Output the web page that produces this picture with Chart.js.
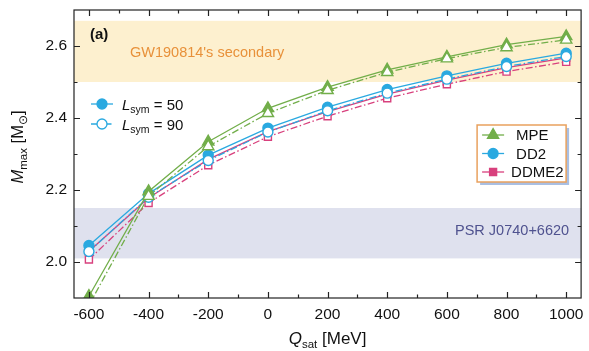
<!DOCTYPE html>
<html>
<head>
<meta charset="utf-8">
<script src="https://cdn.jsdelivr.net/npm/chart.js@4/dist/chart.umd.min.js"></script>
<style>
  html, body { margin: 0; padding: 0; background: #fff; }
  #wrap { width: 589px; height: 351px; }
</style>
</head>
<body>
<div id="wrap"><canvas id="c" width="589" height="351"></canvas></div>
<script>
// Saturation skewness Q_sat [MeV]
const qsat = [-600, -400, -200, 0, 200, 400, 600, 800, 1000];

// Maximum mass [M_sun] for each model, L_sym = 50 and L_sym = 90
const mpeL50   = [1.905, 2.196, 2.334, 2.427, 2.486, 2.534, 2.570, 2.604, 2.627];
const mpeL90   = [1.880, 2.183, 2.321, 2.413, 2.477, 2.527, 2.565, 2.596, 2.617];
const dd2L50   = [2.046, 2.190, 2.297, 2.372, 2.430, 2.479, 2.517, 2.552, 2.580];
const dd2L90   = [2.029, 2.180, 2.282, 2.361, 2.420, 2.469, 2.508, 2.543, 2.571];
const ddme2L50 = [2.030, 2.178, 2.285, 2.362, 2.418, 2.466, 2.505, 2.540, 2.567];
const ddme2L90 = [2.007, 2.164, 2.269, 2.348, 2.405, 2.455, 2.494, 2.529, 2.556];

// Observational constraints [M_sun]
const gwBand  = [2.50, 2.67];   // GW190814's secondary
const psrBand = [2.01, 2.15];   // PSR J0740+6620

// Axis ticks
const xTicks = [-600, -400, -200, 0, 200, 400, 600, 800, 1000];
const xMinor = [-600, -500, -400, -300, -200, -100, 0, 100, 200, 300, 400, 500, 600, 700, 800, 900, 1000];
const yTicks = [2.0, 2.2, 2.4, 2.6];
const yMinor = [2.0, 2.1, 2.2, 2.3, 2.4, 2.5, 2.6];

const GREEN = '#72ae4a';
const BLUE  = '#2aa9e0';
const PINK  = '#d8407d';
const FONT  = '"Liberation Sans", Arial, sans-serif';
const DASHDOT = [7, 2.5, 1.5, 2.5];

const pts = ys => qsat.map((x, i) => ({ x, y: ys[i] }));

function series(label, ys, color, style, open, order) {
  return {
    label,
    data: pts(ys),
    borderColor: color,
    backgroundColor: open ? '#ffffff' : color,
    pointBorderColor: color,
    pointBackgroundColor: open ? '#ffffff' : color,
    pointStyle: style,
    pointRadius: style === 'triangle' ? 6.5 : 5,
    pointBorderWidth: 1.4,
    borderWidth: 1.3,
    borderDash: open ? DASHDOT : [],
    tension: 0,
    fill: false,
    order
  };
}

function drawMarker(ctx, style, x, y) {
  Chart.helpers.drawPoint(ctx, {
    pointStyle: style,
    radius: style === 'triangle' ? 6.5 : 5,
    borderWidth: 1.4
  }, x, y);
}

const decor = {
  id: 'decor',
  beforeDatasetsDraw(chart) {
    const { ctx, chartArea: a, scales: { y } } = chart;
    ctx.save();
    // constraint bands
    const band = (lo, hi, col) => {
      const y1 = y.getPixelForValue(hi), y2 = y.getPixelForValue(lo);
      ctx.fillStyle = col;
      ctx.fillRect(a.left, y1, a.right - a.left, y2 - y1);
    };
    band(gwBand[0], gwBand[1], '#fdf0cf');
    band(psrBand[0], psrBand[1], '#dfe1ee');
    ctx.font = '14.5px ' + FONT;
    ctx.textBaseline = 'middle';
    ctx.fillStyle = '#e8913a';
    ctx.textAlign = 'left';
    ctx.fillText("GW190814's secondary", a.left + 56, y.getPixelForValue(2.58));
    ctx.fillStyle = '#4f528f';
    ctx.textAlign = 'right';
    ctx.fillText('PSR J0740+6620', a.right - 12, y.getPixelForValue(2.085));
    ctx.restore();
  },
  afterDatasetsDraw(chart) {
    const { ctx, chartArea: a, scales: { x, y } } = chart;
    ctx.save();
    // frame
    ctx.strokeStyle = '#222';
    ctx.lineWidth = 1.2;
    ctx.strokeRect(a.left, a.top, a.right - a.left, a.bottom - a.top);
    // inward ticks on all sides
    ctx.beginPath();
    xMinor.forEach(v => {
      const px = Math.round(x.getPixelForValue(v)) + 0.5;
      const len = xTicks.includes(v) ? 6 : 3.5;
      ctx.moveTo(px, a.bottom); ctx.lineTo(px, a.bottom - len);
      ctx.moveTo(px, a.top); ctx.lineTo(px, a.top + len);
    });
    yMinor.forEach(v => {
      const py = Math.round(y.getPixelForValue(v)) + 0.5;
      const len = yTicks.some(t => Math.abs(t - v) < 1e-9) ? 6 : 3.5;
      ctx.moveTo(a.left, py); ctx.lineTo(a.left + len, py);
      ctx.moveTo(a.right, py); ctx.lineTo(a.right - len, py);
    });
    ctx.stroke();

    // panel label
    ctx.fillStyle = '#111';
    ctx.font = 'bold 15px ' + FONT;
    ctx.textAlign = 'left';
    ctx.textBaseline = 'middle';
    ctx.fillText('(a)', a.left + 16, a.top + 25);

    // L_sym legend
    const legL = [[50, false, []], [90, true, DASHDOT]];
    legL.forEach(([val, open, dash], i) => {
      const yy = a.top + 94 + i * 20;
      ctx.strokeStyle = BLUE;
      ctx.lineWidth = 1.3;
      ctx.setLineDash(dash);
      ctx.beginPath(); ctx.moveTo(a.left + 17, yy); ctx.lineTo(a.left + 39, yy); ctx.stroke();
      ctx.setLineDash([]);
      ctx.fillStyle = open ? '#fff' : BLUE;
      drawMarker(ctx, 'circle', a.left + 28, yy);
      ctx.fillStyle = '#111';
      let tx = a.left + 48;
      ctx.textBaseline = 'alphabetic';
      ctx.font = 'italic 15px ' + FONT;
      ctx.fillText('L', tx, yy + 5.5); tx += ctx.measureText('L').width;
      ctx.font = '10.5px ' + FONT;
      ctx.fillText('sym', tx, yy + 9); tx += ctx.measureText('sym').width;
      ctx.font = '15px ' + FONT;
      ctx.fillText(' = ' + val, tx, yy + 5.5);
    });

    // model legend
    const bx = a.right - 104, by = a.top + 115, bw = 89, bh = 57;
    ctx.fillStyle = '#a9bfe3';
    ctx.fillRect(bx + 3, by + 3, bw, bh);
    ctx.fillStyle = '#fff';
    ctx.fillRect(bx, by, bw, bh);
    ctx.strokeStyle = '#e9a15e';
    ctx.lineWidth = 1.5;
    ctx.strokeRect(bx, by, bw, bh);
    const models = [['MPE', GREEN, 'triangle', 39], ['DD2', BLUE, 'circle', 39], ['DDME2', PINK, 'rect', 34]];
    ctx.font = '15px ' + FONT;
    ctx.textBaseline = 'middle';
    models.forEach(([name, col, style, tdx], i) => {
      const yy = by + 10 + i * 18.5;
      ctx.strokeStyle = col;
      ctx.lineWidth = 1.3;
      ctx.beginPath(); ctx.moveTo(bx + 5, yy); ctx.lineTo(bx + 27, yy); ctx.stroke();
      ctx.fillStyle = col;
      drawMarker(ctx, style, bx + 16, yy);
      ctx.fillStyle = '#111';
      ctx.fillText(name, bx + tdx, yy + 1);
    });
    ctx.restore();
  },
  afterDraw(chart) {
    const { ctx, chartArea: a } = chart;
    ctx.save();
    ctx.fillStyle = '#111';
    ctx.textBaseline = 'alphabetic';
    const width = list => list.reduce((s, [t, f]) => { ctx.font = f + FONT; return s + ctx.measureText(t).width; }, 0);
    // x title: Q_sat [MeV]
    const parts = [
      ['Q', 'italic 17px ', 0], ['sat', '11.5px ', 4], [' [MeV]', '17px ', 0]
    ];
    let w = width(parts);
    let tx = (a.left + a.right) / 2 - w / 2;
    ctx.textAlign = 'left';
    parts.forEach(([t, f, dy]) => {
      ctx.font = f + FONT;
      ctx.fillText(t, tx, 344 + dy); tx += ctx.measureText(t).width;
    });
    // y title: M_max [M_sun]
    const yparts = [
      ['M', 'italic 16.5px ', 0], ['max', '11.5px ', 4], [' [M', '16.5px ', 0], ['\u2299', '11.5px ', 4], [']', '16.5px ', 0]
    ];
    w = width(yparts);
    ctx.translate(23, 147);
    ctx.rotate(-Math.PI / 2);
    tx = -w / 2;
    yparts.forEach(([t, f, dy]) => {
      ctx.font = f + FONT;
      ctx.fillText(t, tx, dy); tx += ctx.measureText(t).width;
    });
    ctx.restore();
  }
};

new Chart(document.getElementById('c'), {
  type: 'line',
  data: {
    datasets: [
      series('MPE L90', mpeL90, GREEN, 'triangle', true, 0),
      series('MPE L50', mpeL50, GREEN, 'triangle', false, 1),
      series('DD2 L90', dd2L90, BLUE, 'circle', true, 2),
      series('DD2 L50', dd2L50, BLUE, 'circle', false, 3),
      series('DDME2 L90', ddme2L90, PINK, 'rect', true, 4),
      series('DDME2 L50', ddme2L50, PINK, 'rect', false, 5)
    ]
  },
  options: {
    responsive: false,
    animation: false,
    devicePixelRatio: 1,
    layout: { padding: { left: 0, right: 6, top: 10, bottom: 0 } },
    plugins: { legend: { display: false }, tooltip: { enabled: false } },
    scales: {
      x: {
        type: 'linear',
        min: -650, max: 1050,
        grid: { display: false, drawTicks: false },
        border: { display: false },
        afterBuildTicks: s => { s.ticks = xTicks.map(v => ({ value: v })); },
        afterFit: s => { s.height = 53; s.paddingLeft = 0; s.paddingRight = 0; },
        ticks: { color: '#111', font: { family: FONT, size: 15.5 }, padding: 7, maxRotation: 0, autoSkip: false,
                 callback: v => String(v) }
      },
      y: {
        min: 1.9, max: 2.7,
        grid: { display: false, drawTicks: false },
        border: { display: false },
        afterBuildTicks: s => { s.ticks = yTicks.map(v => ({ value: v })); },
        afterFit: s => { s.width = 74; s.paddingTop = 0; s.paddingBottom = 0; },
        ticks: { color: '#111', font: { family: FONT, size: 15.5 }, padding: 7,
                 callback: v => Number(v).toFixed(1) }
      }
    }
  },
  plugins: [decor]
});
</script>
</body>
</html>
